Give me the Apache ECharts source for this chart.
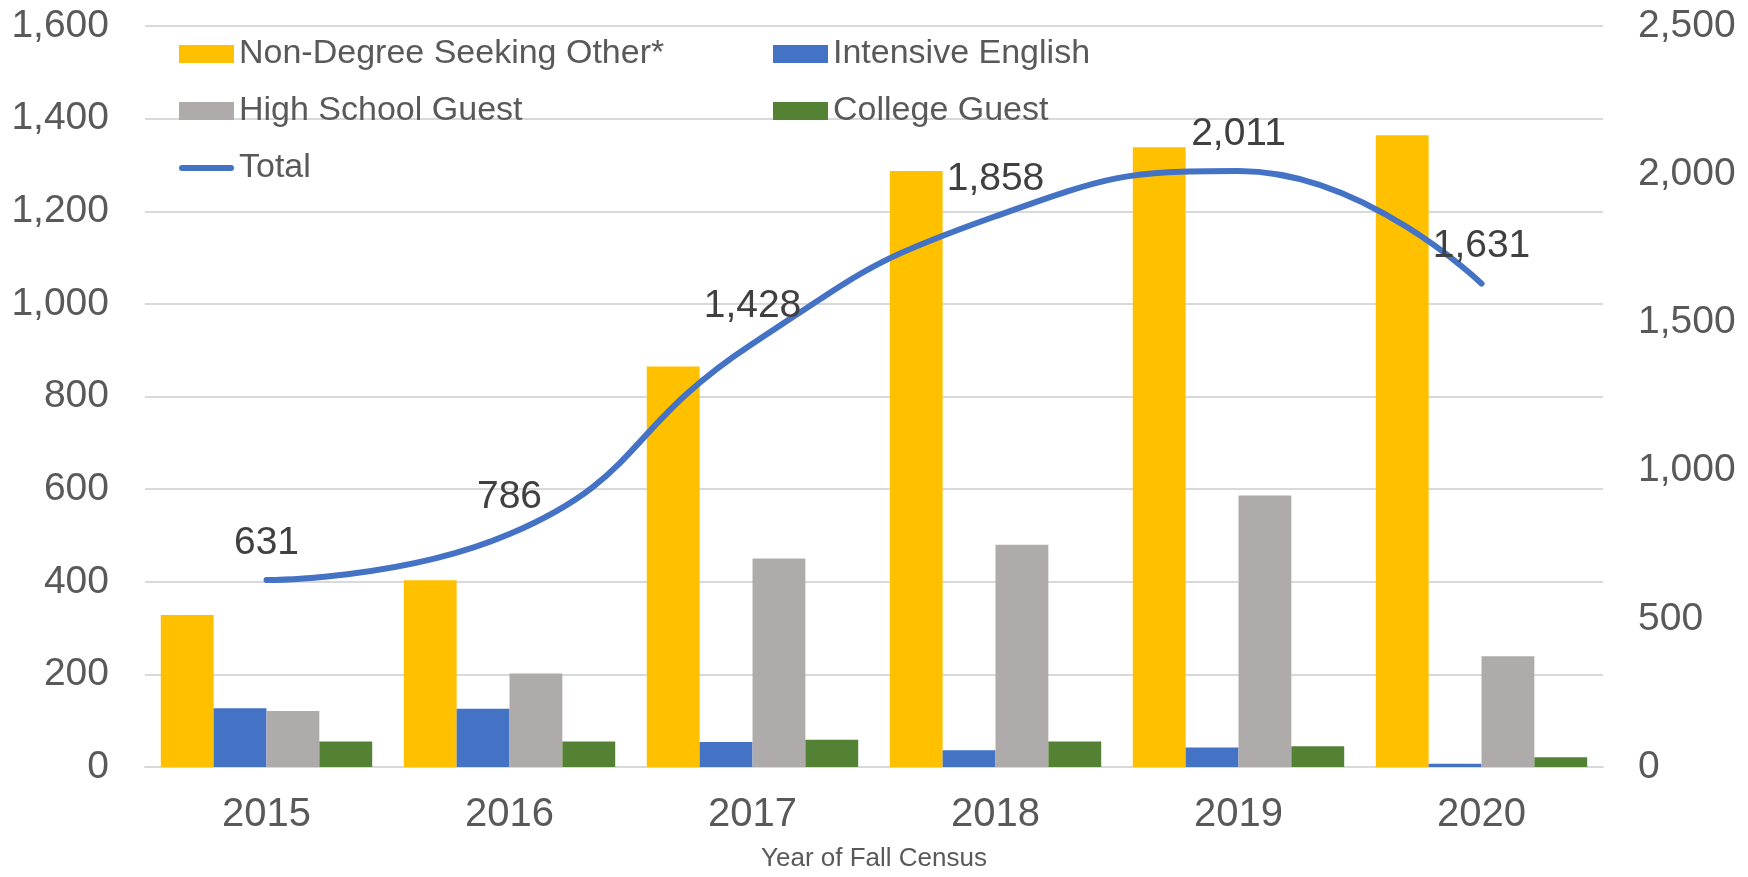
<!DOCTYPE html>
<html>
<head>
<meta charset="utf-8">
<script src="https://cdn.jsdelivr.net/npm/echarts@6/dist/echarts.min.js"></script>
<style>
  html, body { margin: 0; padding: 0; background: #fff; }
  #main { width: 1748px; height: 877px; }
</style>
</head>
<body>
<div id="main"></div>
<script>
var years = ['2015', '2016', '2017', '2018', '2019', '2020'];
var nonDegree = [328, 403, 865, 1287, 1338, 1364];
var intensiveEnglish = [127, 126, 54, 36, 42, 7];
var highSchool = [121, 202, 450, 480, 586, 239];
var collegeGuest = [55, 55, 59, 55, 45, 21];
var total = [631, 786, 1428, 1858, 2011, 1631];

var font = '"Liberation Sans", Arial, sans-serif';
var grey = '#595959';
var lineIcon = 'path://M3,0 L52,0 A3,3 0 0 1 52,6 L3,6 A3,3 0 0 1 3,0 Z';

var chart = echarts.init(document.getElementById('main'));

function barSeries(name, data, color) {
  return {
    name: name,
    type: 'bar',
    data: data,
    yAxisIndex: 0,
    barGap: '0%',
    barCategoryGap: '13%',
    itemStyle: { color: color },
    emphasis: { disabled: true }
  };
}

var legendText = { fontSize: 34, lineHeight: 34, color: grey, fontFamily: font };

var option = {
  animation: false,
  textStyle: { fontFamily: font },
  grid: { left: 145, right: 145, top: 26, bottom: 107, containLabel: false },
  legend: [
    {
      orient: 'vertical',
      left: 174,
      top: 32,
      itemWidth: 55,
      itemHeight: 18,
      itemGap: 23,
      textStyle: legendText,
      data: [
        { name: 'Non-Degree Seeking Other*', icon: 'rect' },
        { name: 'High School Guest', icon: 'rect' },
        { name: 'Total', icon: lineIcon }
      ]
    },
    {
      orient: 'vertical',
      left: 768,
      top: 32,
      itemWidth: 55,
      itemHeight: 18,
      itemGap: 23,
      textStyle: legendText,
      data: [
        { name: 'Intensive English', icon: 'rect' },
        { name: 'College Guest', icon: 'rect' }
      ]
    }
  ],
  xAxis: {
    type: 'category',
    data: years,
    name: 'Year of Fall Census',
    nameLocation: 'middle',
    nameGap: 79,
    nameTextStyle: { fontSize: 26, color: grey, fontFamily: font },
    axisLine: { lineStyle: { color: '#d9d9d9', width: 2 } },
    axisTick: { show: false },
    axisLabel: { fontSize: 40, color: grey, margin: 28, fontFamily: font }
  },
  yAxis: [
    {
      type: 'value',
      min: 0,
      max: 1600,
      interval: 200,
      axisLine: { show: false },
      axisTick: { show: false },
      splitLine: { lineStyle: { color: '#d9d9d9', width: 2 } },
      axisLabel: {
        fontSize: 39,
        color: grey,
        margin: 36,
        fontFamily: font,
        formatter: function (v) { return v.toLocaleString('en-US'); }
      }
    },
    {
      type: 'value',
      min: 0,
      max: 2500,
      interval: 500,
      axisLine: { show: false },
      axisTick: { show: false },
      splitLine: { show: false },
      axisLabel: {
        fontSize: 39,
        color: grey,
        margin: 35,
        fontFamily: font,
        formatter: function (v) { return v.toLocaleString('en-US'); }
      }
    }
  ],
  series: [
    barSeries('Non-Degree Seeking Other*', nonDegree, '#FFC000'),
    barSeries('Intensive English', intensiveEnglish, '#4472C4'),
    barSeries('High School Guest', highSchool, '#AFABAB'),
    barSeries('College Guest', collegeGuest, '#548235'),
    {
      name: 'Total',
      type: 'line',
      yAxisIndex: 1,
      data: total,
      smooth: 0.5,
      symbol: 'circle',
      symbolSize: 1,
      showSymbol: true,
      lineStyle: { color: '#4472C4', width: 6, cap: 'round' },
      itemStyle: { color: '#4472C4' },
      label: {
        show: true,
        position: 'top',
        distance: 17,
        fontSize: 39,
        color: '#404040',
        fontFamily: font,
        formatter: function (p) { return p.value.toLocaleString('en-US'); }
      },
      emphasis: { disabled: true },
      z: 5
    }
  ]
};

chart.setOption(option);
</script>
</body>
</html>
